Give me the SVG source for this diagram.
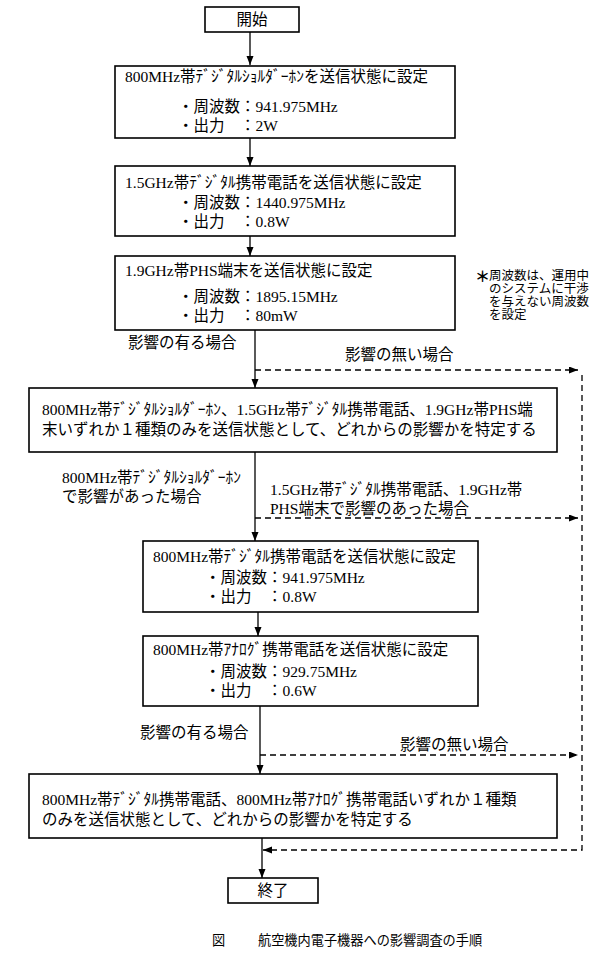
<svg xmlns="http://www.w3.org/2000/svg" width="600" height="975" viewBox="0 0 600 975">
<style>
  .box { fill: #fff; stroke: #000; stroke-width: 1.6; }
  .t { font-family: "Liberation Serif", "Noto Sans CJK JP", serif; font-size: 15.5px; fill: #000; }
  .s { font-family: "Liberation Serif", "Noto Sans CJK JP", serif; font-size: 12.5px; fill: #000; }
  .cap { font-family: "Liberation Serif", "Noto Sans CJK JP", serif; font-size: 13.2px; fill: #000; }
  .ast { font-family: "Noto Sans CJK JP", sans-serif; font-size: 15px; font-weight: bold; fill: #000; }
  .ln { fill: none; stroke: #000; stroke-width: 1.3; }
  .dash { fill: none; stroke: #000; stroke-width: 1.3; stroke-dasharray: 6 4; }
</style>
<defs>
  <marker id="ah" markerUnits="userSpaceOnUse" markerWidth="9" markerHeight="8" refX="9" refY="3.5" orient="auto">
    <path d="M0,0 L9,3.5 L0,7 z" fill="#000"/>
  </marker>
</defs>
<rect width="600" height="975" fill="#fff"/>

<g id="connectors">
  <path class="ln" d="M250,32 V65" marker-end="url(#ah)"/>
  <path class="ln" d="M250,138 V166" marker-end="url(#ah)"/>
  <path class="ln" d="M250,236 V256" marker-end="url(#ah)"/>
  <path class="ln" d="M255,330 V388" marker-end="url(#ah)"/>
  <path class="ln" d="M255,452 V541" marker-end="url(#ah)"/>
  <path class="ln" d="M258,612 V636" marker-end="url(#ah)"/>
  <path class="ln" d="M260,706 V774" marker-end="url(#ah)"/>
  <path class="ln" d="M262,838 V878" marker-end="url(#ah)"/>
  <path class="dash" d="M255,370 H578" marker-end="url(#ah)"/>
  <path class="dash" d="M255,518 H578" marker-end="url(#ah)"/>
  <path class="dash" d="M260,755 H578" marker-end="url(#ah)"/>
  <path class="dash" d="M582,375 V850 H263" marker-end="url(#ah)"/>
</g>

<g id="start">
  <rect class="box" x="205" y="7" width="94" height="25"/>
  <text class="t" x="252" y="25" text-anchor="middle">開始</text>
</g>

<g id="n1">
  <rect class="box" x="115" y="66" width="340" height="72"/>
  <text class="t" x="125" y="82">800MHz帯ﾃﾞｼﾞﾀﾙｼｮﾙﾀﾞｰﾎﾝを送信状態に設定</text>
  <text class="t" x="178" y="112">・周波数：941.975MHz</text>
  <text class="t" x="178" y="131">・出力　：2W</text>
</g>

<g id="n2">
  <rect class="box" x="115" y="166" width="340" height="70"/>
  <text class="t" x="125" y="188">1.5GHz帯ﾃﾞｼﾞﾀﾙ携帯電話を送信状態に設定</text>
  <text class="t" x="178" y="208">・周波数：1440.975MHz</text>
  <text class="t" x="178" y="227">・出力　：0.8W</text>
</g>

<g id="n3">
  <rect class="box" x="115" y="256" width="340" height="74"/>
  <text class="t" x="125" y="276">1.9GHz帯PHS端末を送信状態に設定</text>
  <text class="t" x="178" y="302">・周波数：1895.15MHz</text>
  <text class="t" x="178" y="321">・出力　：80mW</text>
</g>

<g id="note">
  <text class="ast" x="475" y="282">＊</text>
  <text class="s" x="489" y="280">周波数は、運用中</text>
  <text class="s" x="489" y="293">のシステムに干渉</text>
  <text class="s" x="489" y="306">を与えない周波数</text>
  <text class="s" x="489" y="319">を設定</text>
</g>

<g id="lbl1">
  <text class="t" x="128" y="348">影響の有る場合</text>
  <text class="t" x="345" y="360">影響の無い場合</text>
</g>

<g id="n4">
  <rect class="box" x="29" y="388" width="528" height="64"/>
  <text class="t" x="42" y="415">800MHz帯ﾃﾞｼﾞﾀﾙｼｮﾙﾀﾞｰﾎﾝ、1.5GHz帯ﾃﾞｼﾞﾀﾙ携帯電話、1.9GHz帯PHS端</text>
  <text class="t" x="42" y="435">末いずれか１種類のみを送信状態として、どれからの影響かを特定する</text>
</g>

<g id="lbl2">
  <text class="t" x="62" y="483">800MHz帯ﾃﾞｼﾞﾀﾙｼｮﾙﾀﾞｰﾎﾝ</text>
  <text class="t" x="62" y="502">で影響があった場合</text>
  <text class="t" x="270" y="495">1.5GHz帯ﾃﾞｼﾞﾀﾙ携帯電話、1.9GHz帯</text>
  <text class="t" x="270" y="514">PHS端末で影響のあった場合</text>
</g>

<g id="n5">
  <rect class="box" x="143" y="541" width="335" height="71"/>
  <text class="t" x="153" y="562">800MHz帯ﾃﾞｼﾞﾀﾙ携帯電話を送信状態に設定</text>
  <text class="t" x="205" y="583">・周波数：941.975MHz</text>
  <text class="t" x="205" y="602">・出力　：0.8W</text>
</g>

<g id="n6">
  <rect class="box" x="143" y="636" width="335" height="70"/>
  <text class="t" x="153" y="655">800MHz帯ｱﾅﾛｸﾞ携帯電話を送信状態に設定</text>
  <text class="t" x="205" y="677">・周波数：929.75MHz</text>
  <text class="t" x="205" y="696">・出力　：0.6W</text>
</g>

<g id="lbl3">
  <text class="t" x="140" y="738">影響の有る場合</text>
  <text class="t" x="400" y="750">影響の無い場合</text>
</g>

<g id="n7">
  <rect class="box" x="29" y="774" width="528" height="64"/>
  <text class="t" x="42" y="805">800MHz帯ﾃﾞｼﾞﾀﾙ携帯電話、800MHz帯ｱﾅﾛｸﾞ携帯電話いずれか１種類</text>
  <text class="t" x="42" y="825">のみを送信状態として、どれからの影響かを特定する</text>
</g>

<g id="end">
  <rect class="box" x="228" y="878" width="90" height="25"/>
  <text class="t" x="273" y="896" text-anchor="middle">終了</text>
</g>

<g id="caption">
  <text class="cap" x="212" y="945">図</text>
  <text class="cap" x="258" y="945">航空機内電子機器への影響調査の手順</text>
</g>
</svg>
